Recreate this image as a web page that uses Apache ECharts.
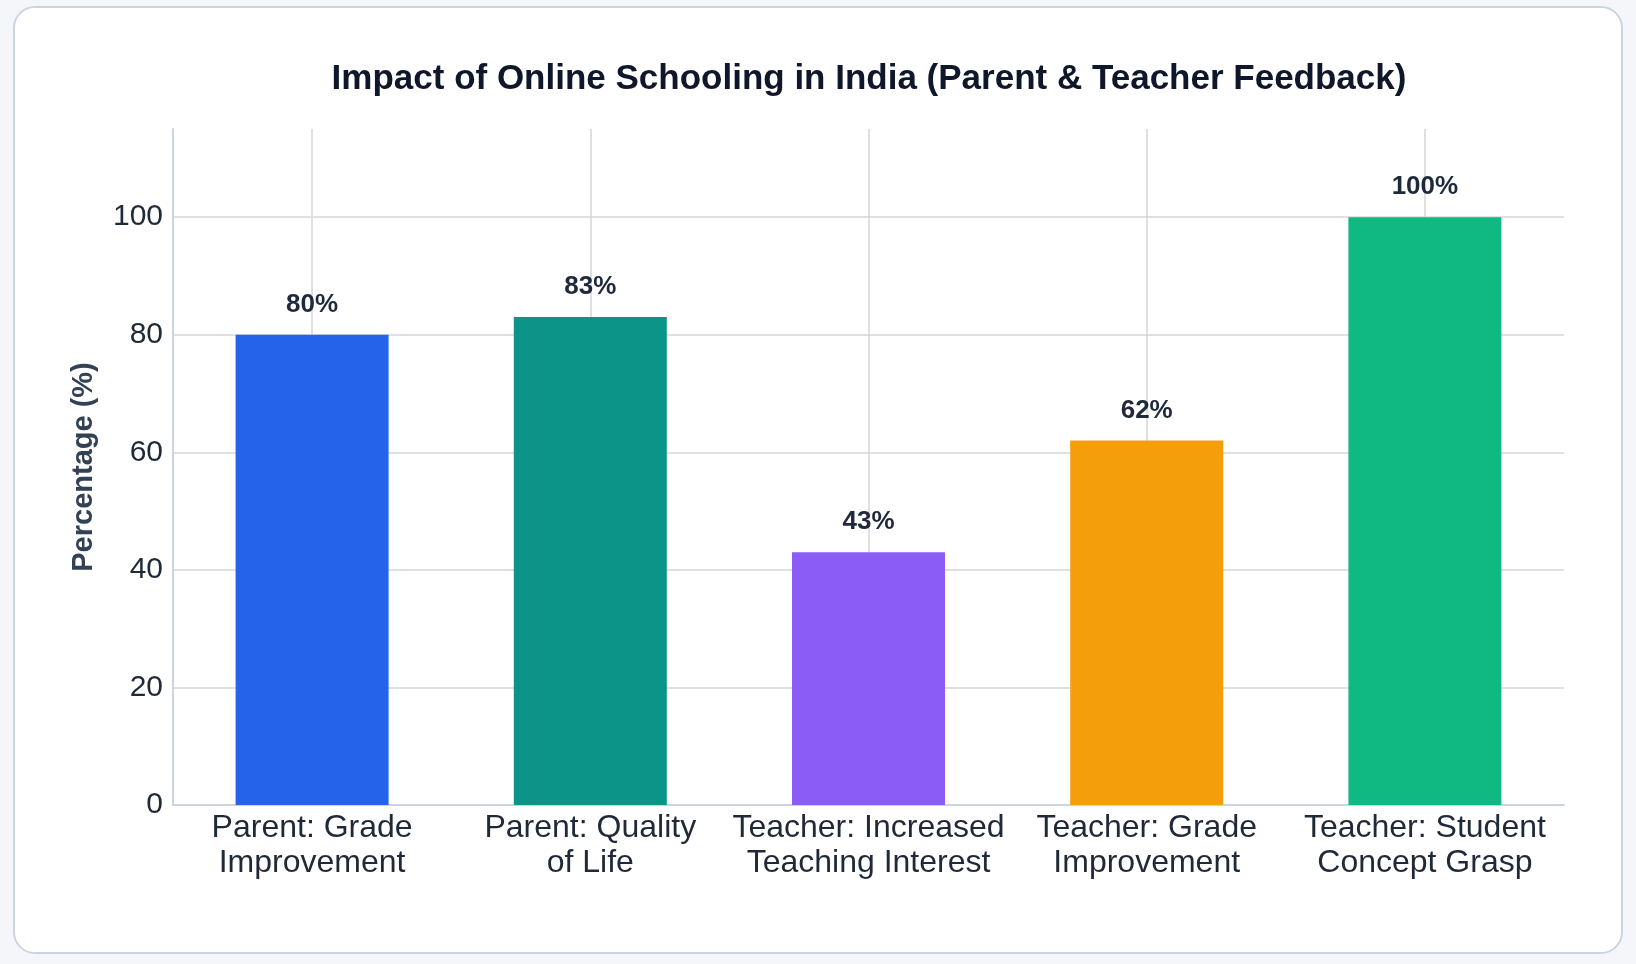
<!DOCTYPE html>
<html>
<head>
<meta charset="utf-8">
<title>Impact of Online Schooling in India</title>
<script src="https://cdn.jsdelivr.net/npm/echarts@6/dist/echarts.min.js"></script>
<style>
    html,body{margin:0;padding:0;width:1636px;height:964px;overflow:hidden;background:#f4f6f9;}
    .card{position:absolute;left:13px;top:6px;width:1606px;height:944px;background:#fff;border:2px solid #cbd5e1;border-radius:22px;}
    #chart{position:absolute;left:0;top:0;width:1636px;height:964px;}
</style>
</head>
<body>
<div class="card"></div>
<div id="chart"></div>
<script>
// data
var categories = [
    'Parent: Grade\nImprovement',
    'Parent: Quality\nof Life',
    'Teacher: Increased\nTeaching Interest',
    'Teacher: Grade\nImprovement',
    'Teacher: Student\nConcept Grasp'
];
var percentValues = [80, 83, 43, 62, 100];
var barColors = ['#2563eb', '#0d9488', '#8b5cf6', '#f59e0b', '#10b981'];

window.onload = function () {
    var chartdom = document.getElementById('chart');
    var myChart = echarts.init(chartdom, null, {renderer: 'canvas'});

    var barData = [];
    for (let i = 0; i < percentValues.length; i++) {
        barData.push({value: percentValues[i], itemStyle: {color: barColors[i]}});
    }
    // vertical grid lines sit on the category centres
    var centreLines = [];
    for (let i = 0; i < categories.length; i++) {
        centreLines.push({xAxis: categories[i]});
    }

    var option = {
        animation: false,
        title: {
            text: 'Impact of Online Schooling in India (Parent & Teacher Feedback)',
            left: 864,
            top: 57,
            textAlign: 'center',
            textStyle: {
                fontFamily: 'Liberation Sans',
                fontSize: 35,
                fontWeight: 'bold',
                color: '#0f172a'
            }
        },
        grid: {
            left: 173,
            right: 72,
            top: 129,
            bottom: 159,
            containLabel: false
        },
        xAxis: {
            type: 'category',
            data: categories,
            axisLine: {show: true, lineStyle: {color: '#cbd5e1', width: 2}},
            axisTick: {show: false},
            splitLine: {show: false},
            axisLabel: {
                interval: 0,
                margin: 6,
                fontFamily: 'Liberation Sans',
                fontSize: 32,
                lineHeight: 35,
                color: '#1f2937'
            }
        },
        yAxis: {
            type: 'value',
            min: 0,
            max: 115,
            interval: 20,
            name: 'Percentage (%)',
            nameLocation: 'middle',
            nameGap: 75,
            nameTextStyle: {
                fontFamily: 'Liberation Sans',
                fontSize: 29,
                fontWeight: 'bold',
                color: '#334155'
            },
            axisLine: {show: true, lineStyle: {color: '#cbd5e1', width: 2}},
            axisTick: {show: false},
            axisLabel: {
                showMaxLabel: false,
                margin: 10,
                fontFamily: 'Liberation Sans',
                fontSize: 30,
                color: '#1f2937'
            },
            splitLine: {
                show: true,
                showMaxLine: false,
                lineStyle: {color: '#d6d6d6', width: 1.5}
            }
        },
        series: [
            {
                name: 'Percentage',
                type: 'bar',
                barWidth: '55%',
                data: barData,
                label: {
                    show: true,
                    position: 'top',
                    distance: 17,
                    formatter: '{c}%',
                    fontFamily: 'Liberation Sans',
                    fontSize: 26,
                    fontWeight: 'bold',
                    color: '#1e293b'
                },
                markLine: {
                    silent: true,
                    z: 1,
                    symbol: ['none', 'none'],
                    label: {show: false},
                    lineStyle: {type: 'solid', color: '#d6d6d6', width: 1.5},
                    data: centreLines
                }
            }
        ]
    };
    myChart.setOption(option);
}
</script>
</body>
</html>
